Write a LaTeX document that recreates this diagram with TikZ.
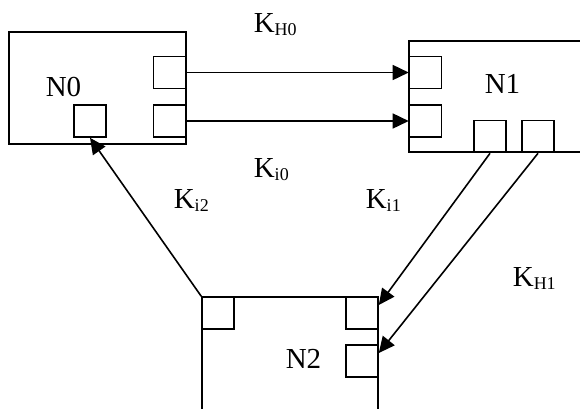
\documentclass[tikz,border=0pt]{standalone}
\usepackage{fontspec}
\setmainfont{Liberation Serif}
\usetikzlibrary{arrows.meta}
\newcommand\ksub[1]{K\raisebox{-3pt}{\fontsize{18}{18}\selectfont #1}}
\begin{document}
\begin{tikzpicture}[x=1pt,y=-1pt, line width=1.6pt,
  box/.style={draw, rectangle, inner sep=0pt},
  port/.style={draw, rectangle, inner sep=0pt, minimum width=32pt, minimum height=32pt},
  lbl/.style={anchor=base west, inner sep=0pt, font=\fontsize{29}{31}\selectfont},
  arr/.style={-{Triangle[length=16pt,width=15pt]}},
]
\useasboundingbox (0,0) rectangle (580,408);
\clip (0,0) rectangle (580,408);
% big boxes
\node[box, minimum width=177pt, minimum height=112pt] (n0) at (97.5,88) {};
\node[box, minimum width=231pt, minimum height=111pt] (n1) at (524.5,96.5) {};
\node[box, minimum width=176pt, minimum height=123pt] (n2) at (290,358.5) {};
% ports
\node[port] (p0a) at (169.5,72.5) {};
\node[port] (p0b) at (169.5,121) {};
\node[port] (p0c) at (90,121) {};
\node[port] (p1a) at (425.5,72.5) {};
\node[port] (p1b) at (425.5,121) {};
\node[port] (p1c) at (490,136.5) {};
\node[port] (p1d) at (538,136.5) {};
\node[port] (p2a) at (218,313) {};
\node[port] (p2b) at (362,313) {};
\node[port] (p2c) at (362,361) {};
% node labels
\node[lbl] (t0) at (45,96) {N0};
\node[lbl] (t1) at (484,93) {N1};
\node[lbl] (t2) at (285,368) {N2};
% connectors
\draw[arr] (p0a.east) -- (p1a.west);
\draw[arr] (p0b.east) -- (p1b.west);
\draw[arr] (p1c.south) -- ([yshift=8pt]p2b.east);
\draw[arr] (p1d.south) -- ([yshift=8pt]p2c.east);
\draw[arr] (n2.north west) -- (p0c.south);
% edge labels
\node[lbl] (kh0) at (253,32) {\ksub{H0}};
\node[lbl] (ki0) at (253,177) {\ksub{i0}};
\node[lbl] (ki2) at (173,208) {\ksub{i2}};
\node[lbl] (ki1) at (365,208) {\ksub{i1}};
\node[lbl] (kh1) at (512,286) {\ksub{H1}};
\end{tikzpicture}
\end{document}
